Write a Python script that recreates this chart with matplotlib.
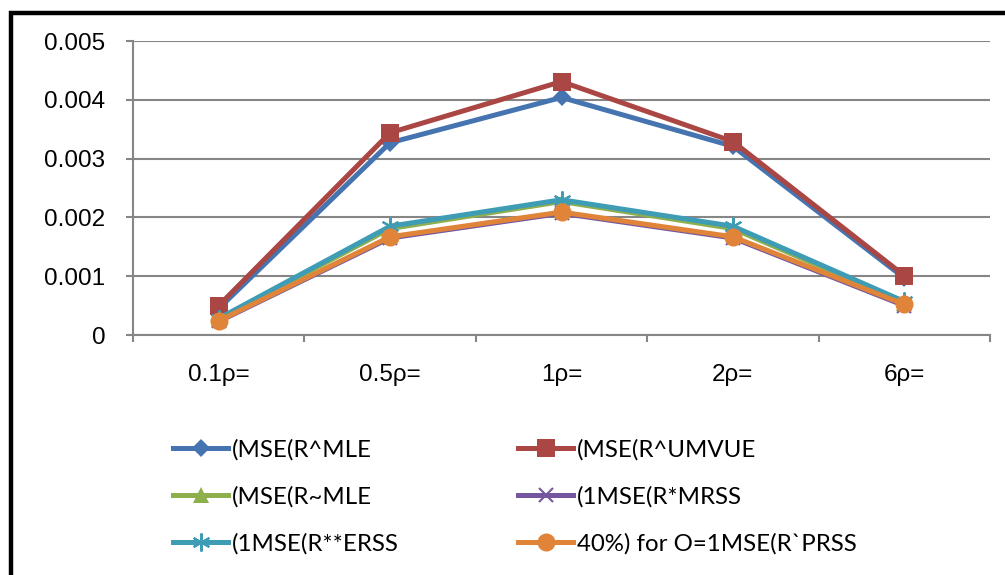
import matplotlib
matplotlib.use("Agg")
import matplotlib.pyplot as plt
from matplotlib.patches import Rectangle
import numpy as np

categories = ["0.1ρ=", "0.5ρ=", "1ρ=", "2ρ=", "6ρ="]
mse_mle = [0.00045, 0.00327, 0.00404, 0.00321, 0.00097]
mse_umvue = [0.00050, 0.00344, 0.00431, 0.00329, 0.00101]
mse_tmle = [0.00027, 0.00181, 0.00227, 0.00181, 0.00055]
mse_mrss = [0.00023, 0.00165, 0.00207, 0.00165, 0.00050]
mse_erss = [0.00028, 0.00185, 0.00230, 0.00185, 0.00057]
mse_prss = [0.00024, 0.00167, 0.00209, 0.00167, 0.00052]
labels = ["(MSE(R^MLE", "(MSE(R^UMVUE", "(MSE(R~MLE", "(1MSE(R*MRSS",
          "(1MSE(R**ERSS", "40%) for O=1MSE(R`PRSS"]
yticks = [0, 0.001, 0.002, 0.003, 0.004, 0.005]
ytick_labels = ["0", "0.001", "0.002", "0.003", "0.004", "0.005"]

series = [mse_mle, mse_umvue, mse_tmle, mse_mrss, mse_erss, mse_prss]
colors = ["#4674B0", "#AA4643", "#8DB04C", "#7457A0", "#3F9CB5", "#E0843A"]
markers = ["D", "s", "^", "x", (6, 2, 0), "o"]
msizes = [9, 13, 11, 10, 13, 13]

fig = plt.figure(figsize=(10.05, 5.75), dpi=100)
ax = fig.add_axes([133/1005, 1-335/575, (990-133)/1005, (335-41)/575])

x = np.arange(len(categories))
handles = []
for s, c, m, ms, lab in zip(series, colors, markers, msizes, labels):
    mew = 1.5 if m in ("x", (6, 2, 0)) else 0
    h, = ax.plot(x, s, color=c, lw=3.6, marker=m, ms=ms, mfc=c, mec=c,
                 mew=mew, label=lab, solid_joinstyle="round", zorder=3)
    handles.append(h)

ax.set_xlim(-0.5, len(categories) - 0.5)
ax.set_ylim(0, 0.005)
ax.set_yticks(yticks)
ax.set_yticklabels(ytick_labels, family="Liberation Sans", fontsize=17.5)
ax.set_xticks(x)
ax.set_xticklabels(categories, family="Liberation Sans", fontsize=17.5)
ax.set_xticks(np.arange(-0.5, len(categories)), minor=True)
ax.tick_params(axis="x", which="major", length=0, pad=21)
ax.tick_params(axis="x", which="minor", length=5, width=1.5, color="#868686")
ax.tick_params(axis="y", which="major", length=5, width=1.5, color="#868686", pad=15)
ax.grid(axis="y", color="#868686", lw=1.5)
ax.set_axisbelow(True)
for sp in ["top", "right"]:
    ax.spines[sp].set_visible(False)
for sp in ["left", "bottom"]:
    ax.spines[sp].set_color("#868686")
    ax.spines[sp].set_linewidth(1.5)

leg_kw = dict(frameon=False, prop={"family": "Lato", "size": 17.3},
              handlelength=2.3, handletextpad=0.15, labelspacing=1.06,
              borderpad=0, borderaxespad=0, loc="upper left")
leg1 = fig.legend([handles[0], handles[2], handles[4]],
                  [labels[0], labels[2], labels[4]],
                  bbox_to_anchor=(173/1005, 1-439/575), **leg_kw)
leg2 = fig.legend([handles[1], handles[3], handles[5]],
                  [labels[1], labels[3], labels[5]],
                  bbox_to_anchor=(518/1005, 1-439/575), **leg_kw)

fig.patches.append(Rectangle((11/1005, -0.1), 1.2, 1.1 - 13.5/575,
                             transform=fig.transFigure, fill=False,
                             ec="black", lw=3.2))

fig.savefig("out.png", dpi=100)
